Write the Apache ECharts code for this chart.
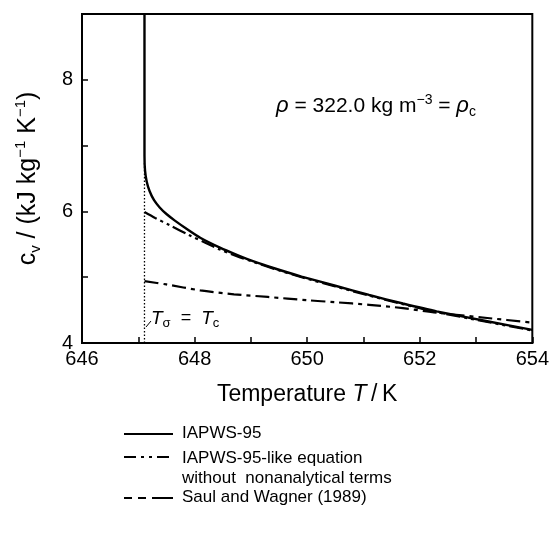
<!DOCTYPE html>
<html>
<head>
<meta charset="utf-8">
<style>
  html, body { margin: 0; padding: 0; background: #fff; }
  #chart { width: 552px; height: 533px; }
</style>
</head>
<body>
<div id="chart"></div>
<script src="https://cdn.jsdelivr.net/npm/echarts@6/dist/echarts.min.js"></script>
<script type="text/javascript">
// critical temperature line position (K)
var tc = 647.11;

// IAPWS-95
var iapwsT  = [tc, tc, 647.12, 647.15, 647.2, 647.28, 647.38, 647.5, 647.65, 647.85, 648.1, 648.45, 648.75, 649.05, 649.4, 649.9, 650.5, 651.1, 651.7, 652.3, 653.2, 654.0];
var iapwsCv = [9.0, 6.85, 6.62, 6.45, 6.31, 6.17, 6.06, 5.96, 5.86, 5.74, 5.6, 5.45, 5.34, 5.24, 5.14, 5.01, 4.87, 4.73, 4.6, 4.48, 4.33, 4.2];

// IAPWS-95-like equation without nonanalytical terms
var likeT  = [tc, 647.3, 647.56, 647.9, 648.2, 648.45, 648.75, 649.05, 649.4, 649.9, 650.5, 651.1, 651.7, 652.3, 653.2, 654.0];
var likeCv = [5.99, 5.9, 5.79, 5.64, 5.52, 5.42, 5.32, 5.23, 5.13, 5.0, 4.86, 4.72, 4.59, 4.47, 4.32, 4.19];

// Saul and Wagner (1989)
var swT  = [tc, 647.5, 648.1, 648.7, 649.3, 650.0, 650.5, 651.1, 651.7, 652.3, 653.2, 654.0];
var swCv = [4.94, 4.89, 4.8, 4.74, 4.7, 4.65, 4.62, 4.58, 4.53, 4.46, 4.38, 4.31];

// dotted T = Tc marker
var tcLineT  = [tc, tc];
var tcLineCv = [4.0, 6.75];

var legendNames = ['IAPWS-95', 'IAPWS-95-like equation\nwithout  nonanalytical terms', 'Saul and Wagner (1989)'];

function pairs(xs, ys) {
  var out = [];
  for (var i = 0; i < xs.length; i++) out.push([xs[i], ys[i]]);
  return out;
}

var font = 'Liberation Sans, Arial, sans-serif';
var dashLike = [14, 4, 3, 4, 3, 4];
var dashSW = [14, 5, 4, 5];

var chart = echarts.init(document.getElementById('chart'));

var option = {
  animation: false,
  backgroundColor: '#fff',
  textStyle: { fontFamily: font, color: '#000' },
  grid: {
    left: 82, top: 14, right: 19, bottom: 190,
    show: true, borderColor: '#000', borderWidth: 2
  },
  xAxis: {
    type: 'value', min: 646, max: 654, interval: 1,
    axisLine: { lineStyle: { color: '#000', width: 2 } },
    axisTick: { inside: true, length: 6, lineStyle: { color: '#000', width: 1.5 } },
    splitLine: { show: false },
    axisLabel: {
      color: '#000', fontSize: 20, fontFamily: font, margin: 6,
      formatter: function (v) { return v % 2 === 0 ? v : ''; }
    },
    name: 'Temperature {i|T}\u2009/\u2009K',
    nameLocation: 'middle', nameGap: 40,
    nameTextStyle: {
      color: '#000', fontSize: 23, fontFamily: font,
      rich: { i: { fontStyle: 'italic', fontSize: 23, fontFamily: font } }
    }
  },
  yAxis: {
    type: 'value', min: 4, max: 9, interval: 1,
    axisLine: { lineStyle: { color: '#000', width: 2 } },
    axisTick: { inside: true, length: 6, lineStyle: { color: '#000', width: 1.5 } },
    splitLine: { show: false },
    axisLabel: {
      color: '#000', fontSize: 20, fontFamily: font, margin: 9,
      formatter: function (v) { return (v % 2 === 0 && v < 9) ? v : ''; }
    },
    name: '{n|c}{sub|v}{n| / (kJ kg}{sup|−1}{n| K}{sup|−1}{n|)}',
    nameLocation: 'middle', nameGap: 39, nameRotate: 90,
    nameTextStyle: {
      color: '#000', fontFamily: font,
      rich: {
        n: { fontSize: 25, lineHeight: 30, fontFamily: font },
        sub: { fontSize: 15, lineHeight: 15, verticalAlign: 'bottom', fontFamily: font },
        sup: { fontSize: 15, lineHeight: 15, verticalAlign: 'top', fontFamily: font }
      }
    }
  },
  series: [
    {
      name: legendNames[0], type: 'line', data: pairs(iapwsT, iapwsCv),
      showSymbol: false, smooth: 0.2, z: 5,
      lineStyle: { color: '#000', width: 2.4 }
    },
    {
      name: legendNames[1], type: 'line', data: pairs(likeT, likeCv),
      showSymbol: false, smooth: 0.3, z: 4,
      lineStyle: { color: '#000', width: 2.2, type: dashLike }
    },
    {
      name: legendNames[2], type: 'line', data: pairs(swT, swCv),
      showSymbol: false, smooth: 0.3, z: 4,
      lineStyle: { color: '#000', width: 2.2, type: dashSW }
    },
    {
      name: 'Tc', type: 'line', data: pairs(tcLineT, tcLineCv),
      showSymbol: false, z: 3,
      lineStyle: { color: '#000', width: 1.3, type: [1.5, 2] }
    }
  ],
  graphic: [
    // density annotation
    {
      type: 'text', x: 376, y: 106,
      style: {
        text: '{i|ρ}{n| = 322.0 kg m}{sup|−3}{n| = }{i|ρ}{sub|c}',
        align: 'center', verticalAlign: 'middle',
        fill: '#000', fontFamily: font,
        rich: {
          n: { fontSize: 21, lineHeight: 26, fontFamily: font },
          i: { fontSize: 22, lineHeight: 26, fontStyle: 'italic', fontFamily: font },
          sup: { fontSize: 14, lineHeight: 14, verticalAlign: 'top', fontFamily: font },
          sub: { fontSize: 14, lineHeight: 14, verticalAlign: 'bottom', fontFamily: font }
        }
      }
    },
    // T_sigma = T_c label and leader
    {
      type: 'line', shape: { x1: 146, y1: 327, x2: 151, y2: 321 },
      style: { stroke: '#000', lineWidth: 1 }
    },
    {
      type: 'text', left: 151, top: 309,
      style: {
        text: '{i|T}{sub|σ}{n|  =  }{i|T}{sub|c}',
        fill: '#000', fontFamily: font,
        rich: {
          n: { fontSize: 18, lineHeight: 22, fontFamily: font },
          i: { fontSize: 19, lineHeight: 22, fontStyle: 'italic', fontFamily: font },
          sub: { fontSize: 13, lineHeight: 13, verticalAlign: 'bottom', fontFamily: font }
        }
      }
    },
    // legend
    {
      type: 'line', shape: { x1: 124, y1: 434, x2: 173, y2: 434 },
      style: { stroke: '#000', lineWidth: 2 }
    },
    {
      type: 'text', left: 182, top: 425,
      style: { text: legendNames[0], fill: '#000', fontSize: 17, fontFamily: font }
    },
    {
      type: 'line', shape: { x1: 124, y1: 457, x2: 173, y2: 457 },
      style: { stroke: '#000', lineWidth: 2, lineDash: [12, 5, 3, 5, 3, 5] }
    },
    {
      type: 'text', left: 182, top: 448,
      style: { text: legendNames[1], fill: '#000', fontSize: 17, lineHeight: 20, fontFamily: font }
    },
    {
      type: 'line', shape: { x1: 124, y1: 498, x2: 173, y2: 498 },
      style: { stroke: '#000', lineWidth: 2, lineDash: [8, 6, 8, 6, 22] }
    },
    {
      type: 'text', left: 182, top: 489,
      style: { text: legendNames[2], fill: '#000', fontSize: 17, fontFamily: font }
    }
  ]
};

chart.setOption(option);
</script>
</body>
</html>
